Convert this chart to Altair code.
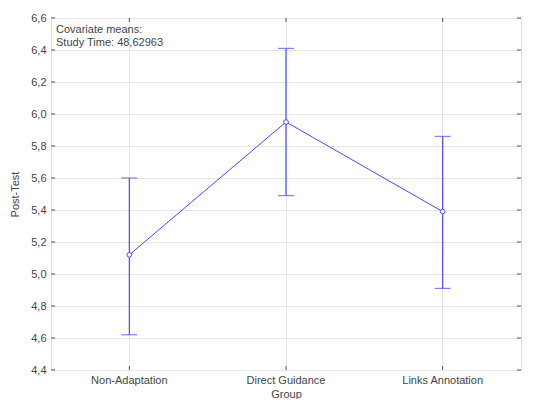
import altair as alt
import pandas as pd

groups = ["Non-Adaptation", "Direct Guidance", "Links Annotation"]
means = [5.12, 5.95, 5.39]
lower = [4.62, 5.49, 4.91]
upper = [5.60, 6.41, 5.86]
y_ticks = [4.4, 4.6, 4.8, 5.0, 5.2, 5.4, 5.6, 5.8, 6.0, 6.2, 6.4, 6.6]
note = "Covariate means:\nStudy Time: 48,62963"

df = pd.DataFrame({"Group": groups, "mean": means, "lo": lower, "hi": upper})
ticks_df = pd.DataFrame({"v": y_ticks})

FONT = "Liberation Sans"
BLUE = "#4a4aff"
AX = "#555555"

xscale = alt.Scale(domain=groups, paddingInner=0, paddingOuter=0)
yscale = alt.Scale(domain=[4.4, 6.6], nice=False, zero=False)

x_axis = alt.Axis(title="Group", labelAngle=0, tickSize=0, labelPadding=4,
                  titleY=29, titleBaseline="bottom", grid=True, gridColor="#e4e4e4",
                  domain=False, labelColor="#444", titleColor="#444",
                  labelFontWeight="normal", titleFontWeight="normal",
                  labelOverlap=False,
                  labelFontSize=11, titleFontSize=11, labelFont=FONT, titleFont=FONT)
y_axis = alt.Axis(title="Post-Test", values=y_ticks, tickSize=0, labelPadding=5,
                  titlePadding=10, grid=True, gridColor="#e4e4e4", domain=False,
                  labelOverlap=False, labelBound=False, labelFlush=False,
                  labelExpr="replace(format(datum.value, '.1f'), '.', ',')",
                  labelColor="#444", titleColor="#444", titleFontWeight="normal",
                  labelFontSize=11, titleFontSize=11, labelFont=FONT, titleFont=FONT)

def X():
    return alt.X("Group:N", scale=xscale, sort=groups, axis=x_axis, title="Group")

def Y(f):
    return alt.Y(f, scale=yscale, axis=y_axis, title="Post-Test")

line = alt.Chart(df).mark_line(color=BLUE, strokeWidth=1).encode(x=X(), y=Y("mean:Q"))
rules = alt.Chart(df).mark_rule(color=BLUE, strokeWidth=1.2).encode(
    x=X(), y=Y("lo:Q"), y2="hi:Q")
cap_lo = alt.Chart(df).mark_tick(color=BLUE, size=16, thickness=1.2, orient="horizontal").encode(
    x=X(), y=Y("lo:Q"))
cap_hi = alt.Chart(df).mark_tick(color=BLUE, size=16, thickness=1.2, orient="horizontal").encode(
    x=X(), y=Y("hi:Q"))
pts = alt.Chart(df).mark_point(shape="circle", size=22, filled=False, fill="white",
                               fillOpacity=1, color=BLUE, strokeWidth=1, opacity=1).encode(
    x=X(), y=Y("mean:Q"))

# inward ticks on frame edges
lt = alt.Chart(ticks_df).mark_rule(color=AX, strokeWidth=1).encode(
    y=Y("v:Q"), x=alt.value(0), x2=alt.value(4))
rt = alt.Chart(ticks_df).mark_rule(color=AX, strokeWidth=1).encode(
    y=Y("v:Q"), x=alt.value(466), x2=alt.value(470))
gdf = pd.DataFrame({"Group": groups})
bt = alt.Chart(gdf).mark_rule(color=AX, strokeWidth=1).encode(
    x=X(), y=alt.value(348), y2=alt.value(352))
tt = alt.Chart(gdf).mark_rule(color=AX, strokeWidth=1).encode(
    x=X(), y=alt.value(0), y2=alt.value(4))

txt = alt.Chart(pd.DataFrame({"t": [note]})).mark_text(
    align="left", baseline="top", lineBreak="\n", font=FONT, fontSize=11,
    color="#444", lineHeight=13).encode(x=alt.value(5), y=alt.value(6), text="t:N")

chart = alt.layer(line, rules, cap_lo, cap_hi, pts, lt, rt, bt, tt, txt).properties(
    width=470, height=352,
    autosize=alt.AutoSizeParams(type="none"),
    padding={"left": 43, "top": 10, "right": 14, "bottom": 29},
).configure_view(stroke="#444", strokeWidth=1.3).configure_axis(
    labelOverlap=False).configure(background="white")

chart.save("out.html", embed_options={"renderer": "svg", "actions": False})
